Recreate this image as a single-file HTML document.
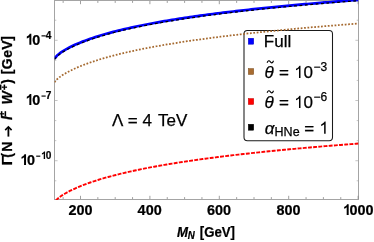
<!DOCTYPE html>
<html><head><meta charset="utf-8"><style>
html,body{margin:0;padding:0;background:#fff;}
body{width:374px;height:242px;overflow:hidden;}
svg{display:block;}
text{font-family:"Liberation Sans",sans-serif;fill:#000;stroke:#000;stroke-width:0.25px;}
</style></head><body>
<svg style="filter:blur(0.35px)" width="374" height="242" viewBox="0 0 374 242">
<rect width="374" height="242" fill="#fff"/>
<rect x="244.0" y="30.5" width="88.5" height="110.25" rx="3.4" ry="3.4" fill="#fff" stroke="#1a1a1a" stroke-width="1.05"/>
<g stroke="#a4a4a4" stroke-width="1" fill="none">
<rect x="54.5" y="0.5" width="304" height="199"/>
</g>
<g stroke="#808080" stroke-width="0.75"><line x1="63.15" y1="199" x2="63.15" y2="197.1"/><line x1="63.15" y1="1" x2="63.15" y2="2.9"/><line x1="80.50" y1="199" x2="80.50" y2="195.8"/><line x1="80.50" y1="1" x2="80.50" y2="4.2"/><line x1="97.85" y1="199" x2="97.85" y2="197.1"/><line x1="97.85" y1="1" x2="97.85" y2="2.9"/><line x1="115.20" y1="199" x2="115.20" y2="197.1"/><line x1="115.20" y1="1" x2="115.20" y2="2.9"/><line x1="132.55" y1="199" x2="132.55" y2="197.1"/><line x1="132.55" y1="1" x2="132.55" y2="2.9"/><line x1="149.90" y1="199" x2="149.90" y2="195.8"/><line x1="149.90" y1="1" x2="149.90" y2="4.2"/><line x1="167.25" y1="199" x2="167.25" y2="197.1"/><line x1="167.25" y1="1" x2="167.25" y2="2.9"/><line x1="184.60" y1="199" x2="184.60" y2="197.1"/><line x1="184.60" y1="1" x2="184.60" y2="2.9"/><line x1="201.95" y1="199" x2="201.95" y2="197.1"/><line x1="201.95" y1="1" x2="201.95" y2="2.9"/><line x1="219.30" y1="199" x2="219.30" y2="195.8"/><line x1="219.30" y1="1" x2="219.30" y2="4.2"/><line x1="236.65" y1="199" x2="236.65" y2="197.1"/><line x1="236.65" y1="1" x2="236.65" y2="2.9"/><line x1="254.00" y1="199" x2="254.00" y2="197.1"/><line x1="254.00" y1="1" x2="254.00" y2="2.9"/><line x1="271.35" y1="199" x2="271.35" y2="197.1"/><line x1="271.35" y1="1" x2="271.35" y2="2.9"/><line x1="288.70" y1="199" x2="288.70" y2="195.8"/><line x1="288.70" y1="1" x2="288.70" y2="4.2"/><line x1="306.05" y1="199" x2="306.05" y2="197.1"/><line x1="306.05" y1="1" x2="306.05" y2="2.9"/><line x1="323.40" y1="199" x2="323.40" y2="197.1"/><line x1="323.40" y1="1" x2="323.40" y2="2.9"/><line x1="340.75" y1="199" x2="340.75" y2="197.1"/><line x1="340.75" y1="1" x2="340.75" y2="2.9"/><line x1="358.10" y1="199" x2="358.10" y2="195.8"/><line x1="358.10" y1="1" x2="358.10" y2="4.2"/></g>
<g stroke="#aaaaaa" stroke-width="0.7"><line x1="55" y1="180.79" x2="56.3" y2="180.79"/><line x1="358" y1="180.79" x2="356.7" y2="180.79"/><line x1="55" y1="160.72" x2="57.6" y2="160.72"/><line x1="358" y1="160.72" x2="355.4" y2="160.72"/><line x1="55" y1="140.65" x2="56.3" y2="140.65"/><line x1="358" y1="140.65" x2="356.7" y2="140.65"/><line x1="55" y1="120.58" x2="56.3" y2="120.58"/><line x1="358" y1="120.58" x2="356.7" y2="120.58"/><line x1="55" y1="100.51" x2="57.6" y2="100.51"/><line x1="358" y1="100.51" x2="355.4" y2="100.51"/><line x1="55" y1="80.44" x2="56.3" y2="80.44"/><line x1="358" y1="80.44" x2="356.7" y2="80.44"/><line x1="55" y1="60.37" x2="56.3" y2="60.37"/><line x1="358" y1="60.37" x2="356.7" y2="60.37"/><line x1="55" y1="40.30" x2="57.6" y2="40.30"/><line x1="358" y1="40.30" x2="355.4" y2="40.30"/><line x1="55" y1="20.23" x2="56.3" y2="20.23"/><line x1="358" y1="20.23" x2="356.7" y2="20.23"/></g>
<clipPath id="cp"><rect x="54.5" y="0" width="304" height="200.1"/></clipPath>
<g fill="none" stroke-linejoin="round" clip-path="url(#cp)">
<path d="M54.50,58.60 L57.05,55.57 L59.61,53.43 L62.16,51.64 L64.72,50.05 L67.27,48.60 L69.83,47.26 L72.38,46.01 L74.94,44.82 L77.49,43.70 L80.05,42.63 L82.60,41.62 L85.16,40.64 L87.71,39.70 L90.26,38.80 L92.82,37.93 L95.37,37.10 L97.93,36.29 L100.48,35.50 L103.04,34.74 L105.59,34.01 L108.15,33.29 L110.70,32.60 L113.26,31.92 L115.81,31.26 L118.37,30.62 L120.92,29.99 L123.47,29.38 L126.03,28.78 L128.58,28.20 L131.14,27.63 L133.69,27.08 L136.25,26.53 L138.80,26.00 L141.36,25.47 L143.91,24.96 L146.47,24.46 L149.02,23.97 L151.58,23.49 L154.13,23.01 L156.68,22.55 L159.24,22.09 L161.79,21.64 L164.35,21.20 L166.90,20.76 L169.46,20.34 L172.01,19.92 L174.57,19.51 L177.12,19.10 L179.68,18.70 L182.23,18.31 L184.79,17.92 L187.34,17.54 L189.89,17.16 L192.45,16.79 L195.00,16.42 L197.56,16.06 L200.11,15.71 L202.67,15.36 L205.22,15.01 L207.78,14.67 L210.33,14.33 L212.89,14.00 L215.44,13.67 L218.00,13.35 L220.55,13.03 L223.11,12.71 L225.66,12.40 L228.21,12.09 L230.77,11.78 L233.32,11.48 L235.88,11.18 L238.43,10.89 L240.99,10.60 L243.54,10.31 L246.10,10.02 L248.65,9.74 L251.21,9.46 L253.76,9.19 L256.32,8.92 L258.87,8.65 L261.42,8.38 L263.98,8.11 L266.53,7.85 L269.09,7.59 L271.64,7.34 L274.20,7.08 L276.75,6.83 L279.31,6.58 L281.86,6.33 L284.42,6.09 L286.97,5.85 L289.53,5.61 L292.08,5.37 L294.63,5.13 L297.19,4.90 L299.74,4.67 L302.30,4.44 L304.85,4.21 L307.41,3.99 L309.96,3.77 L312.52,3.54 L315.07,3.32 L317.63,3.11 L320.18,2.89 L322.74,2.68 L325.29,2.46 L327.84,2.25 L330.40,2.04 L332.95,1.84 L335.51,1.63 L338.06,1.43 L340.62,1.23 L343.17,1.02 L345.73,0.83 L348.28,0.63 L350.84,0.43 L353.39,0.24 L355.95,0.04 L358.50,-0.15" stroke="#0000ff" stroke-width="2.7"/>
<path d="M54.50,59.45 L57.05,56.42 L59.61,54.28 L62.16,52.49 L64.72,50.90 L67.27,49.45 L69.83,48.11 L72.38,46.86 L74.94,45.67 L77.49,44.55 L80.05,43.48 L82.60,42.47 L85.16,41.49 L87.71,40.55 L90.26,39.65 L92.82,38.78 L95.37,37.95 L97.93,37.14 L100.48,36.35 L103.04,35.59 L105.59,34.86 L108.15,34.14 L110.70,33.45 L113.26,32.77 L115.81,32.11 L118.37,31.47 L120.92,30.84 L123.47,30.23 L126.03,29.63 L128.58,29.05 L131.14,28.48 L133.69,27.93 L136.25,27.38 L138.80,26.85 L141.36,26.32 L143.91,25.81 L146.47,25.31 L149.02,24.82 L151.58,24.34 L154.13,23.86 L156.68,23.40 L159.24,22.94 L161.79,22.49 L164.35,22.05 L166.90,21.61 L169.46,21.19 L172.01,20.77 L174.57,20.36 L177.12,19.95 L179.68,19.55 L182.23,19.16 L184.79,18.77 L187.34,18.39 L189.89,18.01 L192.45,17.64 L195.00,17.27 L197.56,16.91 L200.11,16.56 L202.67,16.21 L205.22,15.86 L207.78,15.52 L210.33,15.18 L212.89,14.85 L215.44,14.52 L218.00,14.20 L220.55,13.88 L223.11,13.56 L225.66,13.25 L228.21,12.94 L230.77,12.63 L233.32,12.33 L235.88,12.03 L238.43,11.74 L240.99,11.45 L243.54,11.16 L246.10,10.87 L248.65,10.59 L251.21,10.31 L253.76,10.04 L256.32,9.77 L258.87,9.50 L261.42,9.23 L263.98,8.96 L266.53,8.70 L269.09,8.44 L271.64,8.19 L274.20,7.93 L276.75,7.68 L279.31,7.43 L281.86,7.18 L284.42,6.94 L286.97,6.70 L289.53,6.46 L292.08,6.22 L294.63,5.98 L297.19,5.75 L299.74,5.52 L302.30,5.29 L304.85,5.06 L307.41,4.84 L309.96,4.62 L312.52,4.39 L315.07,4.17 L317.63,3.96 L320.18,3.74 L322.74,3.53 L325.29,3.31 L327.84,3.10 L330.40,2.89 L332.95,2.69 L335.51,2.48 L338.06,2.28 L340.62,2.08 L343.17,1.87 L345.73,1.68 L348.28,1.48 L350.84,1.28 L353.39,1.09 L355.95,0.89 L358.50,0.70" stroke="#000" stroke-width="1.25" stroke-dasharray="2.8 2.6"/>
<path d="M54.50,82.30 L57.05,79.27 L59.61,77.13 L62.16,75.34 L64.72,73.75 L67.27,72.30 L69.83,70.96 L72.38,69.71 L74.94,68.52 L77.49,67.40 L80.05,66.33 L82.60,65.32 L85.16,64.34 L87.71,63.40 L90.26,62.50 L92.82,61.63 L95.37,60.80 L97.93,59.99 L100.48,59.20 L103.04,58.44 L105.59,57.71 L108.15,56.99 L110.70,56.30 L113.26,55.62 L115.81,54.96 L118.37,54.32 L120.92,53.69 L123.47,53.08 L126.03,52.48 L128.58,51.90 L131.14,51.33 L133.69,50.78 L136.25,50.23 L138.80,49.70 L141.36,49.17 L143.91,48.66 L146.47,48.16 L149.02,47.67 L151.58,47.19 L154.13,46.71 L156.68,46.25 L159.24,45.79 L161.79,45.34 L164.35,44.90 L166.90,44.46 L169.46,44.04 L172.01,43.62 L174.57,43.21 L177.12,42.80 L179.68,42.40 L182.23,42.01 L184.79,41.62 L187.34,41.24 L189.89,40.86 L192.45,40.49 L195.00,40.12 L197.56,39.76 L200.11,39.41 L202.67,39.06 L205.22,38.71 L207.78,38.37 L210.33,38.03 L212.89,37.70 L215.44,37.37 L218.00,37.05 L220.55,36.73 L223.11,36.41 L225.66,36.10 L228.21,35.79 L230.77,35.48 L233.32,35.18 L235.88,34.88 L238.43,34.59 L240.99,34.30 L243.54,34.01 L246.10,33.72 L248.65,33.44 L251.21,33.16 L253.76,32.89 L256.32,32.62 L258.87,32.35 L261.42,32.08 L263.98,31.81 L266.53,31.55 L269.09,31.29 L271.64,31.04 L274.20,30.78 L276.75,30.53 L279.31,30.28 L281.86,30.03 L284.42,29.79 L286.97,29.55 L289.53,29.31 L292.08,29.07 L294.63,28.83 L297.19,28.60 L299.74,28.37 L302.30,28.14 L304.85,27.91 L307.41,27.69 L309.96,27.47 L312.52,27.24 L315.07,27.02 L317.63,26.81 L320.18,26.59 L322.74,26.38 L325.29,26.16 L327.84,25.95 L330.40,25.74 L332.95,25.54 L335.51,25.33 L338.06,25.13 L340.62,24.93 L343.17,24.72 L345.73,24.53 L348.28,24.33 L350.84,24.13 L353.39,23.94 L355.95,23.74 L358.50,23.55" stroke="#a5692f" stroke-width="1.75" stroke-dasharray="1.75 1.65"/>
<path d="M54.50,202.30 L57.05,199.27 L59.61,197.13 L62.16,195.34 L64.72,193.75 L67.27,192.30 L69.83,190.96 L72.38,189.71 L74.94,188.52 L77.49,187.40 L80.05,186.33 L82.60,185.32 L85.16,184.34 L87.71,183.40 L90.26,182.50 L92.82,181.63 L95.37,180.80 L97.93,179.99 L100.48,179.20 L103.04,178.44 L105.59,177.71 L108.15,176.99 L110.70,176.30 L113.26,175.62 L115.81,174.96 L118.37,174.32 L120.92,173.69 L123.47,173.08 L126.03,172.48 L128.58,171.90 L131.14,171.33 L133.69,170.78 L136.25,170.23 L138.80,169.70 L141.36,169.17 L143.91,168.66 L146.47,168.16 L149.02,167.67 L151.58,167.19 L154.13,166.71 L156.68,166.25 L159.24,165.79 L161.79,165.34 L164.35,164.90 L166.90,164.46 L169.46,164.04 L172.01,163.62 L174.57,163.21 L177.12,162.80 L179.68,162.40 L182.23,162.01 L184.79,161.62 L187.34,161.24 L189.89,160.86 L192.45,160.49 L195.00,160.12 L197.56,159.76 L200.11,159.41 L202.67,159.06 L205.22,158.71 L207.78,158.37 L210.33,158.03 L212.89,157.70 L215.44,157.37 L218.00,157.05 L220.55,156.73 L223.11,156.41 L225.66,156.10 L228.21,155.79 L230.77,155.48 L233.32,155.18 L235.88,154.88 L238.43,154.59 L240.99,154.30 L243.54,154.01 L246.10,153.72 L248.65,153.44 L251.21,153.16 L253.76,152.89 L256.32,152.62 L258.87,152.35 L261.42,152.08 L263.98,151.81 L266.53,151.55 L269.09,151.29 L271.64,151.04 L274.20,150.78 L276.75,150.53 L279.31,150.28 L281.86,150.03 L284.42,149.79 L286.97,149.55 L289.53,149.31 L292.08,149.07 L294.63,148.83 L297.19,148.60 L299.74,148.37 L302.30,148.14 L304.85,147.91 L307.41,147.69 L309.96,147.47 L312.52,147.24 L315.07,147.02 L317.63,146.81 L320.18,146.59 L322.74,146.38 L325.29,146.16 L327.84,145.95 L330.40,145.74 L332.95,145.54 L335.51,145.33 L338.06,145.13 L340.62,144.93 L343.17,144.72 L345.73,144.53 L348.28,144.33 L350.84,144.13 L353.39,143.94 L355.95,143.74 L358.50,143.55" stroke="#ff0000" stroke-width="1.9" stroke-dasharray="3.9 1.3" stroke-dashoffset="-2.3"/>
</g>
<g transform="translate(68.42,215.0) scale(0.955,1)"><text font-size="15.1" font-weight="bold">2</text></g><g transform="translate(76.44,215.0) scale(0.955,1)"><text font-size="15.1" font-weight="bold">0</text></g><g transform="translate(84.46,215.0) scale(0.955,1)"><text font-size="15.1" font-weight="bold">0</text></g>
<g transform="translate(137.62,215.0) scale(0.955,1)"><text font-size="15.1" font-weight="bold">4</text></g><g transform="translate(145.64,215.0) scale(0.955,1)"><text font-size="15.1" font-weight="bold">0</text></g><g transform="translate(153.66,215.0) scale(0.955,1)"><text font-size="15.1" font-weight="bold">0</text></g>
<g transform="translate(207.07,215.0) scale(0.955,1)"><text font-size="15.1" font-weight="bold">6</text></g><g transform="translate(215.09,215.0) scale(0.955,1)"><text font-size="15.1" font-weight="bold">0</text></g><g transform="translate(223.11,215.0) scale(0.955,1)"><text font-size="15.1" font-weight="bold">0</text></g>
<g transform="translate(276.47,215.0) scale(0.955,1)"><text font-size="15.1" font-weight="bold">8</text></g><g transform="translate(284.49,215.0) scale(0.955,1)"><text font-size="15.1" font-weight="bold">0</text></g><g transform="translate(292.51,215.0) scale(0.955,1)"><text font-size="15.1" font-weight="bold">0</text></g>
<path transform="translate(343.00,215.0) scale(0.00704,-0.00737)" d="M806,0 H525 V1059 Q371,915 162,846 V1101 Q272,1137 401,1237.5 Q530,1338 578,1472 H806 Z" fill="#000"/><g transform="translate(349.58,215.0) scale(0.955,1)"><text font-size="15.1" font-weight="bold">0</text></g><g transform="translate(357.59,215.0) scale(0.955,1)"><text font-size="15.1" font-weight="bold">0</text></g><g transform="translate(365.61,215.0) scale(0.955,1)"><text font-size="15.1" font-weight="bold">0</text></g>
<path transform="translate(25.66,44.7) scale(0.00704,-0.00737)" d="M806,0 H525 V1059 Q371,915 162,846 V1101 Q272,1137 401,1237.5 Q530,1338 578,1472 H806 Z" fill="#000"/><g transform="translate(32.24,44.7) scale(0.955,1)"><text font-size="15.1" font-weight="bold">0</text></g>
<g transform="translate(45.72,38.7) scale(0.955,1)"><text font-size="10.6" font-weight="bold">4</text></g>
<rect x="41.50" y="35.30" width="4.20" height="1.15" fill="#000"/>
<path transform="translate(25.66,104.9) scale(0.00704,-0.00737)" d="M806,0 H525 V1059 Q371,915 162,846 V1101 Q272,1137 401,1237.5 Q530,1338 578,1472 H806 Z" fill="#000"/><g transform="translate(32.24,104.9) scale(0.955,1)"><text font-size="15.1" font-weight="bold">0</text></g>
<g transform="translate(45.72,98.9) scale(0.955,1)"><text font-size="10.6" font-weight="bold">7</text></g>
<rect x="41.50" y="95.50" width="4.20" height="1.15" fill="#000"/>
<path transform="translate(20.36,165.0) scale(0.00704,-0.00737)" d="M806,0 H525 V1059 Q371,915 162,846 V1101 Q272,1137 401,1237.5 Q530,1338 578,1472 H806 Z" fill="#000"/><g transform="translate(26.94,165.0) scale(0.955,1)"><text font-size="15.1" font-weight="bold">0</text></g>
<path transform="translate(41.11,159.0) scale(0.00494,-0.00518)" d="M806,0 H525 V1059 Q371,915 162,846 V1101 Q272,1137 401,1237.5 Q530,1338 578,1472 H806 Z" fill="#000"/><g transform="translate(45.72,159.0) scale(0.955,1)"><text font-size="10.6" font-weight="bold">0</text></g>
<rect x="36.20" y="155.60" width="4.10" height="1.15" fill="#000"/>
<g transform="translate(177.1,236.6) scale(0.93,1)"><text font-size="14.2" text-anchor="start" font-weight="bold" font-style="italic">M</text></g>
<g transform="translate(187.7,239.2) scale(0.93,1)"><text font-size="10.4" text-anchor="start" font-weight="bold" font-style="italic">N</text></g>
<g transform="translate(199.8,236.6) scale(0.93,1)"><text font-size="14.2" text-anchor="start" font-weight="bold">[GeV]</text></g>
<g transform="translate(11.8,163) rotate(-90)"><g transform="translate(-2.47,0) scale(1.13,1.02)"><text font-size="14.3" font-weight="bold">Γ</text></g><g transform="translate(5.14,0) scale(0.98,1.02)"><text font-size="14.3" font-weight="bold">(</text></g>
<g transform="translate(11.36,0) scale(0.98,1.02)"><text font-size="14.3" font-weight="bold">N</text></g>
<g transform="translate(43.06,0) scale(0.98,1.02)"><text font-size="14.3" font-weight="bold" font-style="italic">l</text></g>
<g transform="translate(46.60,-5.4) scale(0.98,1.02)"><text font-size="10.2" font-weight="bold">±</text></g>
<g transform="translate(58.52,0) scale(0.98,1.02)"><text font-size="14.3" font-weight="bold" font-style="italic">W</text></g>
<g transform="translate(78.4,-11.8) rotate(180)"><g transform="scale(0.98,1.02)"><text font-size="10.2" font-weight="bold" x="-0.20">±</text></g></g>
<g transform="translate(79.30,0) scale(0.98,1.02)"><text font-size="14.3" font-weight="bold">)</text></g>
<g transform="translate(88.80,0) scale(0.98,1.02)"><text font-size="14.3" font-weight="bold">[</text></g>
<g transform="translate(93.74,0) scale(0.98,1.02)"><text font-size="14.3" font-weight="bold">G</text></g>
<g transform="translate(105.18,0) scale(0.98,1.02)"><text font-size="14.3" font-weight="bold">e</text></g>
<g transform="translate(113.30,0) scale(0.98,1.02)"><text font-size="14.3" font-weight="bold">V</text></g>
<g transform="translate(122.36,0) scale(0.98,1.02)"><text font-size="14.3" font-weight="bold">]</text></g>
<path d="M26.4,-3.4 L35.6,-3.4" stroke="#000" stroke-width="1.8" fill="none"/><path d="M32.9,-6.6 L36.2,-3.4 L32.9,-0.2" stroke="#000" stroke-width="1.6" fill="none" stroke-linejoin="miter"/></g>

<g font-size="17"><text x="112" y="125.7">Λ</text><text x="127.8" y="125.7">=</text><text x="142.5" y="125.7">4</text><text x="158" y="125.7">TeV</text></g>
<rect x="248.3" y="38.25" width="5.4" height="5.95" fill="#0000ff" stroke="#0000c0" stroke-width="0.5"/>
<rect x="248.3" y="68.55" width="5.4" height="5.95" fill="#a86c30" stroke="#7a4f22" stroke-width="0.5"/>
<rect x="248.3" y="98.55" width="5.4" height="5.95" fill="#ff0000" stroke="#c00000" stroke-width="0.5"/>
<rect x="248.3" y="124.25" width="5.4" height="5.95" fill="#000" stroke="#000" stroke-width="0.5"/>
<g font-size="17">
<text x="263.8" y="47">Full</text>
<text x="264.5" y="78" font-style="italic">θ</text><path d="M267.1,62.8 C268,60.2 269.4,60.2 270.3,61.8 C271.2,63.4 272.6,63.4 273.5,60.8" fill="none" stroke="#000" stroke-width="1.1"/><text x="279.0" y="78">=</text><path transform="translate(294.15,78) scale(0.00830,-0.00830)" d="M763,0 H583 V1147 Q518,1085 412.5,1023 Q307,961 223,930 V1104 Q374,1175 487,1276 Q600,1377 647,1472 H763 Z" fill="#000"/><text x="303.6" y="78">0</text><text x="313.4" y="71" font-size="12">−3</text>
<text x="264.5" y="108" font-style="italic">θ</text><path d="M267.1,92.8 C268,90.2 269.4,90.2 270.3,91.8 C271.2,93.4 272.6,93.4 273.5,90.8" fill="none" stroke="#000" stroke-width="1.1"/><text x="279.0" y="108">=</text><path transform="translate(294.15,108) scale(0.00830,-0.00830)" d="M763,0 H583 V1147 Q518,1085 412.5,1023 Q307,961 223,930 V1104 Q374,1175 487,1276 Q600,1377 647,1472 H763 Z" fill="#000"/><text x="303.6" y="108">0</text><text x="313.4" y="101" font-size="12">−6</text>
<text x="264.8" y="133.7" font-style="italic">α</text><text x="274.6" y="136" font-size="12.5">HNe</text><text x="304.3" y="133.7">=</text><path transform="translate(319.30,133.7) scale(0.00830,-0.00830)" d="M763,0 H583 V1147 Q518,1085 412.5,1023 Q307,961 223,930 V1104 Q374,1175 487,1276 Q600,1377 647,1472 H763 Z" fill="#000"/>
</g>
</svg>
</body></html>
